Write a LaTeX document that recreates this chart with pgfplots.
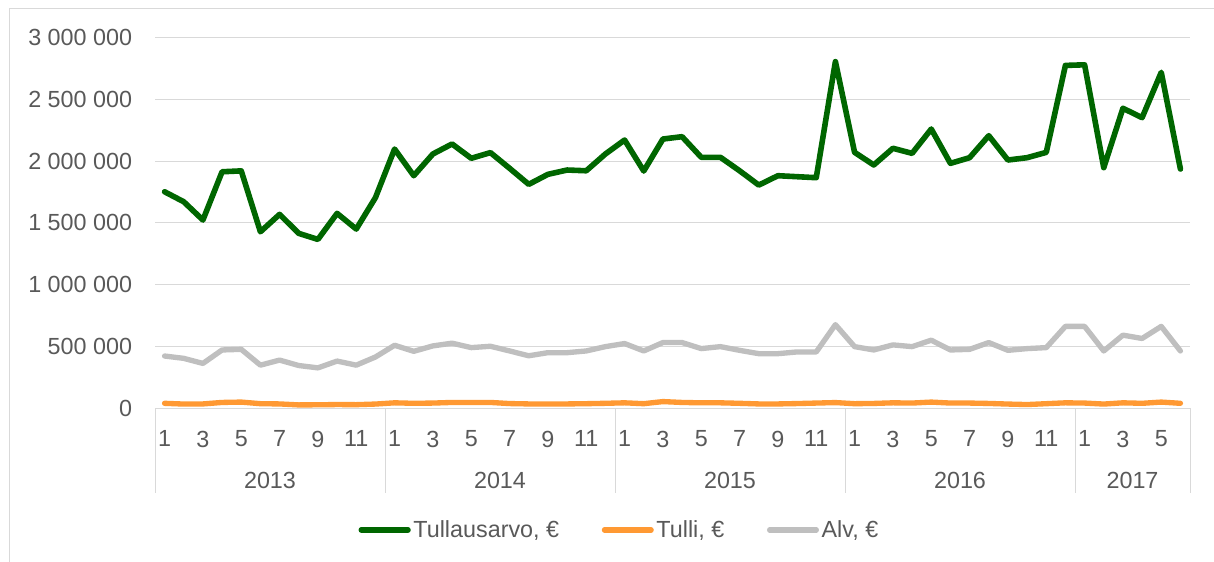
\documentclass[border=0pt]{standalone}
\usepackage{pgfplots}
\pgfplotsset{compat=1.18}
\usepackage{pgfplotstable}
\usepackage{fontspec}
\setmainfont{Liberation Sans}
\definecolor{tgreen}{HTML}{006600}
\definecolor{torange}{HTML}{FF9933}
\definecolor{tgray}{HTML}{BFBFBF}
\definecolor{ttext}{HTML}{595959}
\definecolor{tgrid}{HTML}{D9D9D9}

\pgfplotstableread{
i tullausarvo tulli alv
0 1751000 38000 421000
1 1670000 32000 402000
2 1522000 33000 361000
3 1913000 45000 470000
4 1920000 48000 475000
5 1427000 35000 347000
6 1568000 33000 388000
7 1414000 25000 344000
8 1365000 26000 325000
9 1576000 28000 380000
10 1449000 27000 347000
11 1703000 32000 413000
12 2097000 42000 508000
13 1881000 38000 459000
14 2057000 40000 503000
15 2138000 45000 525000
16 2022000 45000 489000
17 2068000 45000 500000
18 1941000 36000 462000
19 1811000 33000 423000
20 1892000 33000 448000
21 1927000 33000 448000
22 1921000 35000 462000
23 2057000 38000 497000
24 2170000 42000 522000
25 1919000 35000 462000
26 2178000 52000 530000
27 2197000 45000 530000
28 2030000 42000 481000
29 2030000 42000 497000
30 1921000 38000 467000
31 1805000 33000 440000
32 1881000 33000 440000
33 1873000 36000 454000
34 1865000 40000 454000
35 2805000 44000 675000
36 2070000 35000 497000
37 1968000 37000 470000
38 2103000 42000 511000
39 2062000 40000 497000
40 2259000 48000 549000
41 1981000 40000 470000
42 2027000 40000 475000
43 2205000 37000 530000
44 2008000 32000 467000
45 2027000 28000 481000
46 2070000 35000 489000
47 2774000 42000 661000
48 2779000 40000 661000
49 1946000 32000 462000
50 2427000 42000 590000
51 2351000 38000 563000
52 2718000 48000 661000
53 1935000 38000 462000
}\datatable

\begin{document}
\begin{tikzpicture}
\useasboundingbox (0,0) rectangle (910.5pt,-420.75pt);
\draw[tgrid, line width=0.75pt] (6.75pt,-430pt) -- (6.75pt,-6pt) -- (920pt,-6pt);
\begin{axis}[
  at={(116.25pt,-306pt)}, anchor=south west,
  scale only axis, width=776.25pt, height=277.875pt,
  xmin=-0.5, xmax=53.5, ymin=0, ymax=3000000,
  axis line style={draw=none},
  ytick={0,500000,1000000,1500000,2000000,2500000,3000000},
  yticklabels={0,500 000,1 000 000,1 500 000,2 000 000,2 500 000,3 000 000},
  ymajorgrids, grid style={tgrid, line width=0.75pt},
  xtick={0,2,...,52},
  xticklabels={1,3,5,7,9,11,1,3,5,7,9,11,1,3,5,7,9,11,1,3,5,7,9,11,1,3,5},
  major tick length=0pt,
  tick label style={font=\fontsize{17.5}{21}\selectfont, text=ttext},
  yticklabel style={anchor=east, inner sep=0pt, xshift=-17pt},
  xticklabel style={anchor=north, inner sep=0pt, yshift=-17pt},
  scaled y ticks=false,
  clip=false,
  legend columns=3,
  legend style={at={(axis description cs:0.449,-0.329)}, anchor=center, draw=none, fill=none,
    font=\fontsize{17.5}{21}\selectfont, text=ttext,
    /tikz/every even column/.append style={column sep=30pt}},
  legend image code/.code={\draw[#1, line cap=round] (0pt,0pt) -- (35pt,0pt);},
]
\draw[tgrid, line width=0.75pt] (axis cs:-0.5,0) -- (axis cs:53.5,0);
\pgfplotsinvokeforeach{-0.5,11.5,23.5,35.5,47.5,53.5}{
  \draw[tgrid, line width=0.75pt] (axis cs:#1,0) -- ++(0pt,-64pt);
}
\addplot[tgreen, line width=4.2pt, line join=round, line cap=round, mark=none] table[x=i, y=tullausarvo] {\datatable};
\addlegendentry{Tullausarvo, €}
\addplot[torange, line width=4pt, line join=round, line cap=round, mark=none] table[x=i, y=tulli] {\datatable};
\addlegendentry{Tulli, €}
\addplot[tgray, line width=4pt, line join=round, line cap=round, mark=none] table[x=i, y=alv] {\datatable};
\addlegendentry{Alv, €}
\node[font=\fontsize{17.5}{21}\selectfont, text=ttext] at ([yshift=-54pt]axis cs:5.5,0) {2013};
\node[font=\fontsize{17.5}{21}\selectfont, text=ttext] at ([yshift=-54pt]axis cs:17.5,0) {2014};
\node[font=\fontsize{17.5}{21}\selectfont, text=ttext] at ([yshift=-54pt]axis cs:29.5,0) {2015};
\node[font=\fontsize{17.5}{21}\selectfont, text=ttext] at ([yshift=-54pt]axis cs:41.5,0) {2016};
\node[font=\fontsize{17.5}{21}\selectfont, text=ttext] at ([yshift=-54pt]axis cs:50.5,0) {2017};
\end{axis}
\end{tikzpicture}
\end{document}
